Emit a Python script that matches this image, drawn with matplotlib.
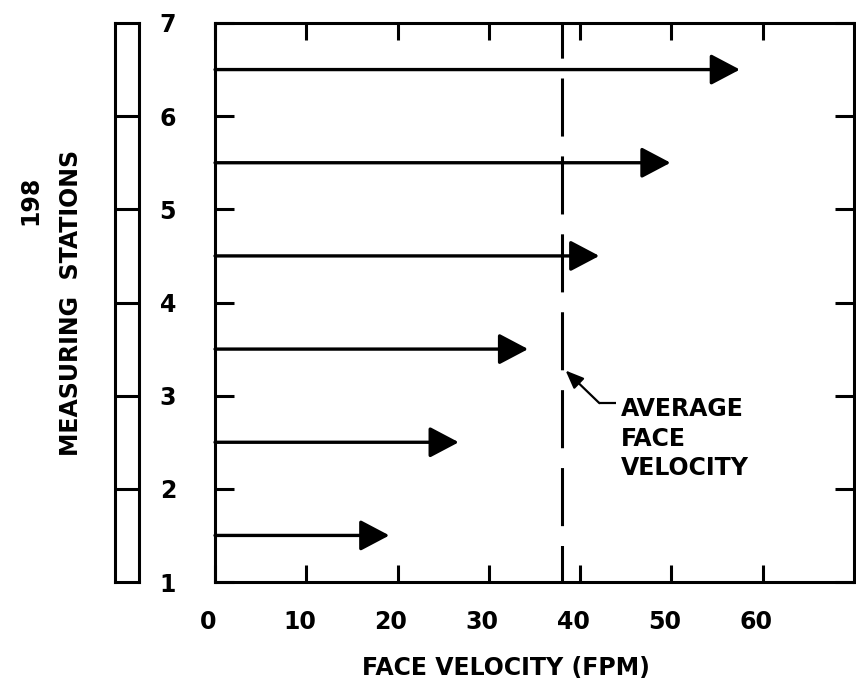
import numpy as np
import matplotlib as mpl
import matplotlib.pyplot as plt
from matplotlib.transforms import ScaledTranslation

# --- data
stations = [1.5, 2.5, 3.5, 4.5, 5.5, 6.5]
velocity = [19.1, 26.7, 34.3, 42.1, 49.9, 57.5]
avg_velocity = 38.0
x_ticks = [0, 10, 20, 30, 40, 50, 60]
y_ticks = [1, 2, 3, 4, 5, 6, 7]
page_number = "198"

mpl.rcParams.update({
    "font.family": "DejaVu Sans",
    "font.weight": "bold",
    "font.size": 17,
    "axes.linewidth": 2.2,
})

LW = 2.2
fig = plt.figure(figsize=(8.56, 6.82), dpi=100)

# main axes
ax = fig.add_axes([0.2512, 0.1466, 0.7465, 0.8197])
ax.set_xlim(0, 70)
ax.set_ylim(1, 7)

# velocity arrows
for y, v in zip(stations, velocity):
    ax.annotate("", xy=(v, y), xytext=(0, y),
                arrowprops=dict(arrowstyle="-|>,head_length=1.8,head_width=0.95",
                                mutation_scale=10, lw=2.4, color="black",
                                shrinkA=0, shrinkB=0))

# average line
ax.plot([avg_velocity, avg_velocity], [7, 1], color="black", lw=LW,
        linestyle=(7.5, (19, 6.5)))

# annotation
ax.plot([42.1, 43.9], [2.92, 2.92], color="black", lw=1.6, solid_capstyle="butt")
ax.annotate("", xy=(38.4, 3.27), xytext=(42.1, 2.92),
            arrowprops=dict(arrowstyle="-|>,head_length=1.1,head_width=0.45",
                            mutation_scale=10, lw=1.6, color="black",
                            shrinkA=0, shrinkB=0))
ax.text(44.5, 2.985, "AVERAGE\nFACE\nVELOCITY", ha="left", va="top",
        fontsize=17, fontweight="bold", linespacing=1.3)

# ticks
ax.set_xticks(x_ticks)
ax.set_xticklabels([str(t) for t in x_ticks])
ax.set_yticks(y_ticks)
ax.set_yticklabels([str(t) for t in y_ticks])
ax.tick_params(axis="x", direction="in", length=12, width=LW, pad=20,
               top=True, labelsize=17)
ax.tick_params(axis="y", direction="in", length=14, width=LW, pad=28,
               right=True, labelsize=17)
shift = ScaledTranslation(-7 / 100, 0, fig.dpi_scale_trans)
for lab in ax.get_xticklabels():
    lab.set_transform(lab.get_transform() + shift)
    lab.set_fontweight("bold")
for lab in ax.get_yticklabels():
    lab.set_fontweight("bold")

ax.set_xlabel("FACE VELOCITY (FPM)", fontsize=17, fontweight="bold")
ax.xaxis.set_label_coords(0.455, -0.1324)
ax.set_ylabel("MEASURING  STATIONS", fontsize=17, fontweight="bold")
ax.yaxis.set_label_coords(-0.2066, 0.5)

# station strip at left
box = fig.add_axes([0.1343, 0.1466, 0.028, 0.8197])
box.set_xlim(0, 1)
box.set_ylim(1, 7)
box.hlines(y_ticks[1:-1], 0, 1, color="black", lw=LW)
box.set_xticks([])
box.set_yticks([])

# page number
fig.text(30 / 856, 1 - 200 / 682, page_number, rotation=90,
         ha="center", va="center", fontsize=17, fontweight="bold")

fig.savefig("out.png", dpi=100)
